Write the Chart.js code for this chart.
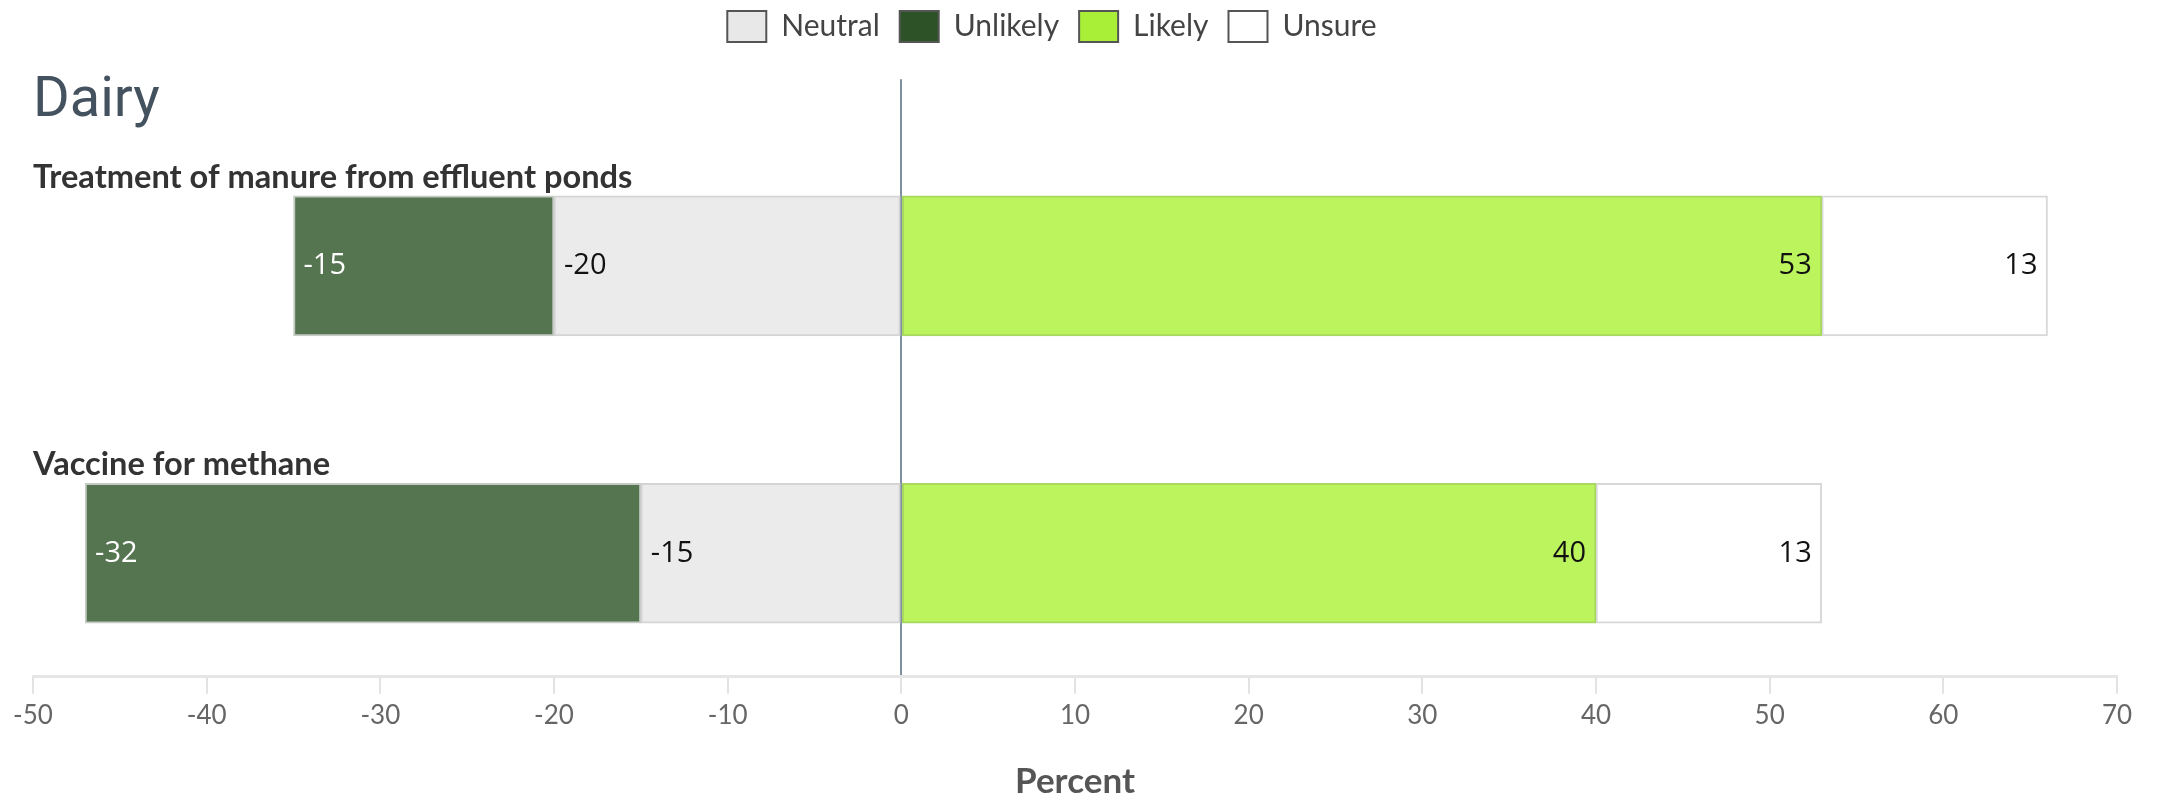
<!DOCTYPE html>
<html>
<head>
<meta charset="utf-8">
<script src="https://cdn.jsdelivr.net/npm/chart.js"></script>
<style>
  html, body { margin: 0; padding: 0; background: #fff; }
  #wrap { width: 2161px; height: 796px; position: relative; }
</style>
</head>
<body>
<div id="wrap"><canvas id="likertChart"></canvas></div>
<script>
// chart values
const chartTitle = 'Dairy';
const categories = ['Treatment of manure from effluent ponds', 'Vaccine for methane'];
const seriesNames = ['Neutral', 'Unlikely', 'Likely', 'Unsure'];
const neutralValues = [-20, -15];
const unlikelyValues = [-15, -32];
const likelyValues = [53, 40];
const unsureValues = [13, 13];
const xMin = -50, xMax = 70, xStep = 10;
const axisTitle = 'Percent';

// styles
const barColors = ['#ebebeb', '#557550', '#bcf45e', '#ffffff'];
const barBorders = ['#d4d4d4', '#c4cbc3', '#a8d860', '#d8d8d8'];
const legendColors = ['#e8e8e8', '#2e5228', '#a9ef38', '#ffffff'];
const labelColors = ['#111', '#fff', '#111', '#111'];
const BAR_THICK = 140;

const seriesValues = [neutralValues, unlikelyValues, likelyValues, unsureValues];

// legend sits a little left of centre and tighter to the top in the original
const legendNudge = {
    id: 'legendNudge',
    afterLayout(chart) {
        const lg = chart.legend;
        lg.left -= 23;
        lg.right -= 23;
        lg.top -= 9;
    }
};

// draws the value inside each bar and the category name above it
const barLabels = {
    id: 'barLabels',
    afterDraw(chart) {
        const ctx = chart.ctx;
        ctx.save();
        ctx.textBaseline = 'middle';
        ctx.font = '29px "Open Sans"';
        chart.data.datasets.forEach((ds, di) => {
            chart.getDatasetMeta(di).data.forEach((bar, i) => {
                const v = ds.data[i].x;
                const left = Math.min(bar.x, bar.base);
                const right = Math.max(bar.x, bar.base);
                ctx.fillStyle = labelColors[di];
                if (v < 0) {
                    ctx.textAlign = 'left';
                    ctx.fillText(String(v), left + 10, bar.y);
                } else {
                    ctx.textAlign = 'right';
                    ctx.fillText(String(v), right - 10, bar.y);
                }
            });
        });
        ctx.font = 'bold 32.6px Lato';
        ctx.fillStyle = '#333';
        ctx.textAlign = 'left';
        ctx.textBaseline = 'alphabetic';
        categories.forEach((c, i) => {
            const y = chart.scales.y.getPixelForValue(i) - BAR_THICK / 2 - 8;
            ctx.fillText(c, chart.chartArea.left, y);
        });
        ctx.restore();
    }
};

const ctx = document.getElementById('likertChart').getContext('2d');
const chart = new Chart(ctx, {
    type: 'bar',
    data: {
        datasets: seriesNames.map((name, di) => ({
            label: name,
            data: seriesValues[di].map((v, i) => ({ x: v, y: i })),
            backgroundColor: barColors[di],
            borderColor: barBorders[di],
            borderWidth: 2,
            borderSkipped: false,
            barThickness: BAR_THICK
        }))
    },
    options: {
        indexAxis: 'y',
        responsive: true,
        maintainAspectRatio: false,
        devicePixelRatio: 1,
        animation: false,
        layout: { padding: { left: 33, right: 44, top: 0, bottom: 0 } },
        plugins: {
            tooltip: { enabled: false },
            legend: {
                position: 'top',
                weight: 3000,
                labels: {
                    boxWidth: 39,
                    boxHeight: 31,
                    padding: 20,
                    color: '#444',
                    font: { family: 'Lato', size: 30 },
                    generateLabels: (c) => c.data.datasets.map((ds, i) => ({
                        text: ds.label,
                        fillStyle: legendColors[i],
                        strokeStyle: '#555',
                        lineWidth: 2,
                        hidden: false,
                        datasetIndex: i,
                        fontColor: '#444'
                    }))
                }
            },
            title: {
                display: true,
                text: chartTitle,
                align: 'start',
                color: '#44525f',
                font: { family: 'Roboto', size: 56, weight: 'normal' },
                padding: { top: 7, bottom: -56 }
            }
        },
        scales: {
            x: {
                type: 'linear',
                stacked: true,
                min: xMin,
                max: xMax,
                z: 1,
                ticks: {
                    stepSize: xStep,
                    color: '#666',
                    padding: 6,
                    font: { family: 'Lato', size: 26 }
                },
                grid: {
                    color: (c) => (c.tick && c.tick.value === 0 ? '#7d8fa1' : 'rgba(0,0,0,0)'),
                    lineWidth: 2,
                    tickColor: '#e3e3e3',
                    tickWidth: 2,
                    tickLength: 17
                },
                border: { display: true, color: '#e6e6e6', width: 3 },
                title: {
                    display: true,
                    text: axisTitle,
                    color: '#555',
                    font: { family: 'Lato', size: 35, weight: 'bold', lineHeight: 0.8 },
                    padding: { top: 31, bottom: 0 }
                }
            },
            y: {
                type: 'linear',
                stacked: true,
                reverse: true,
                offset: false,
                min: -0.65,
                max: 1.43,
                display: false
            }
        }
    },
    plugins: [legendNudge, barLabels]
});
</script>
</body>
</html>
